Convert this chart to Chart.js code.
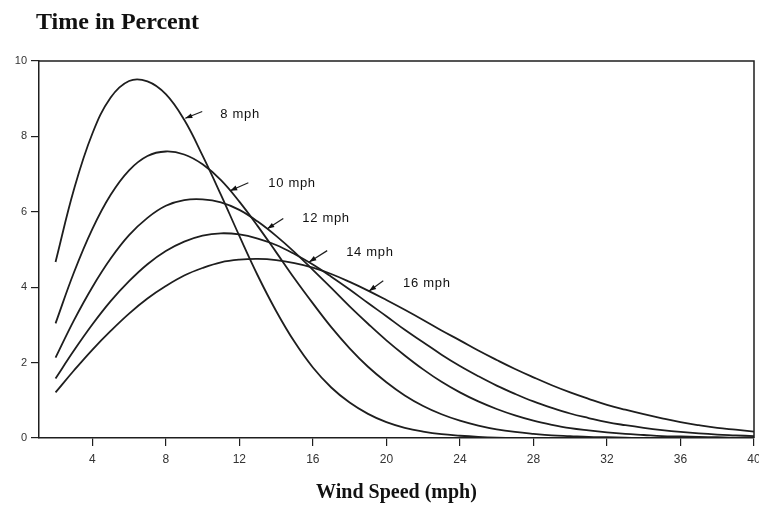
<!DOCTYPE html>
<html>
<head>
<meta charset="utf-8">
<script src="https://cdn.jsdelivr.net/npm/chart.js@4.4.0/dist/chart.umd.min.js"></script>
<style>
  html, body { margin: 0; padding: 0; background: #fff; }
</style>
</head>
<body>
<canvas id="chart" width="759" height="505"></canvas>
<script>
// wind speed (mph) at which each curve is sampled
const speeds = [2, 3, 4, 5, 6, 7, 8, 9, 10, 11, 12, 13, 14, 15, 16, 17, 18, 19, 20, 21,
                22, 23, 24, 25, 26, 27, 28, 29, 30, 31, 32, 33, 34, 35, 36, 37, 38, 39, 40];

// percent of time at each speed, one list per mean wind speed
const mean8 = [4.67, 6.59, 8.07, 9.03, 9.47, 9.46, 9.12, 8.44, 7.49, 6.45, 5.36, 4.31, 3.37, 2.55, 1.87, 1.34, 0.94, 0.64, 0.42, 0.27,
               0.17, 0.10, 0.06, 0.03, 0.01, 0, 0, 0, 0, 0, 0, 0, 0, 0, 0, 0, 0, 0, 0];
const mean10 = [3.04, 4.39, 5.54, 6.45, 7.10, 7.48, 7.60, 7.52, 7.26, 6.84, 6.27, 5.62, 4.93, 4.23, 3.57, 2.94, 2.38, 1.89, 1.48, 1.13,
                0.85, 0.63, 0.46, 0.33, 0.23, 0.16, 0.11, 0.07, 0.05, 0.03, 0.02, 0.01, 0, 0, 0, 0, 0, 0, 0];
const mean12 = [2.13, 3.12, 4.00, 4.76, 5.38, 5.84, 6.16, 6.31, 6.33, 6.25, 6.05, 5.74, 5.36, 4.93, 4.46, 3.98, 3.49, 3.03, 2.59, 2.19,
                1.82, 1.49, 1.21, 0.97, 0.77, 0.60, 0.46, 0.35, 0.26, 0.20, 0.15, 0.11, 0.08, 0.05, 0.04, 0.03, 0.02, 0.01, 0.01];
const mean14 = [1.58, 2.32, 3.01, 3.63, 4.16, 4.61, 4.96, 5.21, 5.37, 5.43, 5.40, 5.29, 5.12, 4.88, 4.60, 4.28, 3.94, 3.58, 3.23, 2.87,
                2.54, 2.21, 1.91, 1.64, 1.39, 1.17, 0.97, 0.80, 0.65, 0.53, 0.42, 0.34, 0.27, 0.21, 0.16, 0.12, 0.09, 0.07, 0.05];
const mean16 = [1.21, 1.79, 2.34, 2.84, 3.30, 3.70, 4.03, 4.31, 4.51, 4.66, 4.73, 4.75, 4.72, 4.64, 4.52, 4.35, 4.14, 3.91, 3.66, 3.40,
                3.13, 2.85, 2.59, 2.32, 2.07, 1.83, 1.61, 1.40, 1.21, 1.04, 0.88, 0.75, 0.63, 0.52, 0.42, 0.34, 0.27, 0.22, 0.17];

const xTicks = [4, 8, 12, 16, 20, 24, 28, 32, 36, 40];
const yTicks = [0, 2, 4, 6, 8, 10];

// curve labels with their pointer arrows (data units)
const curveLabels = ['8 mph', '10 mph', '12 mph', '14 mph', '16 mph'];
const arrowTip  = [[9.06, 8.48], [11.5, 6.56], [13.52, 5.55], [15.8, 4.67], [19.06, 3.90]];
const arrowTail = [[9.98, 8.66], [12.49, 6.77], [14.39, 5.82], [16.78, 4.97], [19.83, 4.17]];
const labelAt   = [[10.96, 8.58], [13.57, 6.75], [15.42, 5.82], [17.81, 4.91], [20.91, 4.09]];

const ink = '#1e1e1e';

function curve(label, values) {
    return {
        label,
        data: speeds.map((s, i) => ({ x: s, y: values[i] })),
        borderColor: ink,
        borderWidth: 1.8,
        pointRadius: 0,
        fill: false,
        tension: 0.4
    };
}

// frame, titles and arrows
const extras = {
    id: 'extras',
    afterDraw(chart) {
        const { ctx, chartArea: a, scales: { x, y } } = chart;
        ctx.save();

        ctx.strokeStyle = ink;
        ctx.lineWidth = 1.5;
        ctx.beginPath();
        ctx.moveTo(a.left, a.top);
        ctx.lineTo(a.right, a.top);
        ctx.lineTo(a.right, a.bottom);
        ctx.stroke();

        ctx.fillStyle = '#111';
        ctx.textBaseline = 'middle';
        ctx.textAlign = 'left';
        ctx.font = 'bold 24px "Liberation Serif"';
        ctx.fillText('Time in Percent', a.left - 3, 23);
        ctx.textAlign = 'center';
        ctx.font = 'bold 20px "Liberation Serif"';
        ctx.fillText('Wind Speed (mph)', (a.left + a.right) / 2, 493);

        ctx.font = '13px "Liberation Sans"';
        ctx.letterSpacing = '0.7px';
        ctx.textAlign = 'left';
        ctx.lineWidth = 1.2;
        curveLabels.forEach((txt, i) => {
            const tx = x.getPixelForValue(arrowTip[i][0]);
            const ty = y.getPixelForValue(arrowTip[i][1]);
            const sx = x.getPixelForValue(arrowTail[i][0]);
            const sy = y.getPixelForValue(arrowTail[i][1]);
            const ang = Math.atan2(ty - sy, tx - sx);
            ctx.beginPath();
            ctx.moveTo(sx, sy);
            ctx.lineTo(tx, ty);
            ctx.stroke();
            ctx.beginPath();
            ctx.moveTo(tx, ty);
            ctx.lineTo(tx - 7 * Math.cos(ang) + 2.5 * Math.sin(ang), ty - 7 * Math.sin(ang) - 2.5 * Math.cos(ang));
            ctx.lineTo(tx - 7 * Math.cos(ang) - 2.5 * Math.sin(ang), ty - 7 * Math.sin(ang) + 2.5 * Math.cos(ang));
            ctx.closePath();
            ctx.fill();
            ctx.fillText(txt, x.getPixelForValue(labelAt[i][0]), y.getPixelForValue(labelAt[i][1]));
        });

        ctx.restore();
    }
};

const axisGrid = { drawOnChartArea: false, drawTicks: true, tickLength: 8, color: ink, lineWidth: 1.2 };
const axisBorder = { display: true, color: ink, width: 1.5 };

new Chart(document.getElementById('chart'), {
    type: 'line',
    data: {
        datasets: [
            curve('8 mph', mean8),
            curve('10 mph', mean10),
            curve('12 mph', mean12),
            curve('14 mph', mean14),
            curve('16 mph', mean16)
        ]
    },
    options: {
        responsive: false,
        animation: false,
        layout: { padding: { top: 61, right: 5, left: 0, bottom: 0 } },
        plugins: { legend: { display: false }, tooltip: { enabled: false } },
        scales: {
            x: {
                type: 'linear',
                min: 1.1,
                max: 40,
                grid: axisGrid,
                border: axisBorder,
                ticks: { color: '#333', font: { family: '"Liberation Sans"', size: 12 }, padding: 6, maxRotation: 0 },
                afterBuildTicks: s => { s.ticks = xTicks.map(v => ({ value: v })); },
                afterFit: s => { s.height = 67; s.paddingLeft = 0; s.paddingRight = 0; }
            },
            y: {
                min: 0,
                max: 10,
                grid: axisGrid,
                border: axisBorder,
                ticks: { color: '#333', font: { family: '"Liberation Sans"', size: 11 }, padding: 4 },
                afterBuildTicks: s => { s.ticks = yTicks.map(v => ({ value: v })); },
                afterFit: s => { s.width = 39; }
            }
        }
    },
    plugins: [extras]
});
</script>
</body>
</html>
